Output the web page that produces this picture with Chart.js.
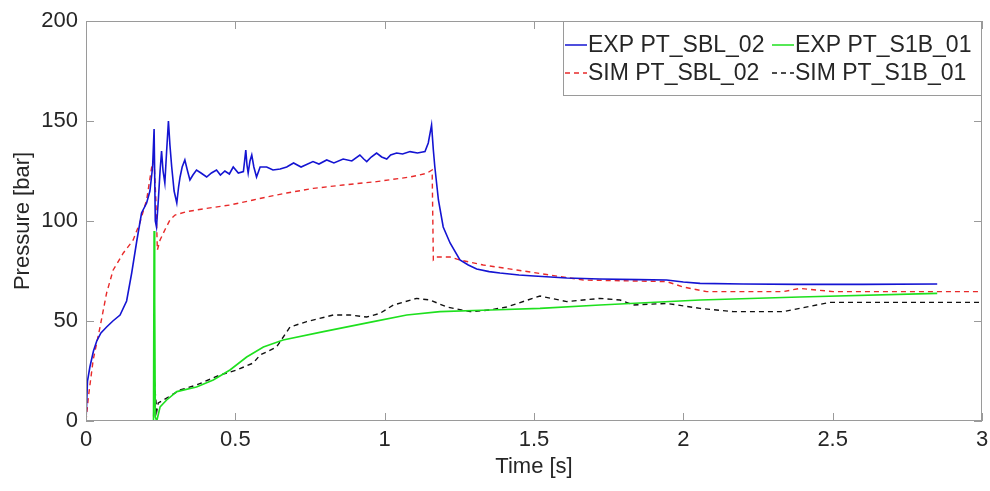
<!DOCTYPE html>
<html>
<head>
<meta charset="utf-8">
<script src="https://cdn.jsdelivr.net/npm/chart.js@4"></script>
<style>
  body { margin: 0; background: #fff; }
  #wrap { width: 990px; height: 491px; position: relative; }
</style>
</head>
<body>
<div id="wrap"><canvas id="pressureChart"></canvas></div>
<script>
// Pressure traces (time in s, pressure in bar)
const expSblTime = [
  0, 0.005, 0.013, 0.025, 0.036, 0.05, 0.069, 0.09, 0.114, 0.136,
  0.153, 0.17, 0.186, 0.203, 0.214, 0.223, 0.228, 0.232, 0.236, 0.242,
  0.248, 0.253, 0.258, 0.264, 0.27, 0.276, 0.281, 0.287, 0.295, 0.304,
  0.31, 0.315, 0.322, 0.331, 0.34, 0.348, 0.358, 0.37, 0.385, 0.404,
  0.42, 0.437, 0.45, 0.465, 0.48, 0.493, 0.51, 0.527, 0.531, 0.535,
  0.539, 0.543, 0.549, 0.555, 0.562, 0.571, 0.583, 0.605, 0.626, 0.65,
  0.672, 0.695, 0.72, 0.76, 0.78, 0.806, 0.83, 0.861, 0.89, 0.917,
  0.93, 0.94, 0.955, 0.973, 0.99, 1.007, 1.02, 1.04, 1.06, 1.085,
  1.11, 1.135, 1.146, 1.157, 1.163, 1.168, 1.18, 1.196, 1.219, 1.252,
  1.28, 1.308, 1.35, 1.386, 1.45, 1.5, 1.61, 1.72, 1.85, 1.944,
  2.0, 2.056, 2.2, 2.39, 2.6, 2.85
];
const expSblPressure = [
  0, 20, 27, 35, 40, 44, 47, 50, 53, 60,
  74, 90, 104, 109, 115, 127, 146, 100, 97, 110,
  125, 135, 125, 119, 135, 150, 138, 127, 115, 109,
  117, 122, 127, 130.5, 125, 120.5, 123, 125.5, 124, 122,
  124, 125.5, 123, 125, 123.5, 127, 124, 124.7, 130, 135.5,
  128, 124, 130, 133, 127, 122, 127, 127, 125.5, 126,
  127, 129, 127, 129.7, 128.5, 130.5, 129, 131, 130, 133,
  131, 129.7, 132, 134, 132, 131, 133, 134, 133.5, 134.7,
  134, 134.7, 139, 148, 135.5, 127, 110.5, 97, 89, 80.5,
  78, 76, 74.7, 74, 73, 72.5, 71.5, 71, 70.7, 70.5,
  69.5, 68.8, 68.5, 68.3, 68.3, 68.5
];

const expS1bTime = [
  0, 0.226, 0.228, 0.23, 0.232, 0.237, 0.248, 0.27, 0.304, 0.37,
  0.426, 0.482, 0.538, 0.594, 0.66, 0.795, 0.962, 1.074, 1.185, 1.353,
  1.52, 1.721, 2.056, 2.39, 2.85
];
const expS1bPressure = [
  0, 0, 95, 60, 2, 0, 7, 10.5, 14.7, 17,
  20.5, 25.5, 32, 37, 40.5, 44.7, 49.7, 53, 54.7, 55.5,
  56.3, 58, 60.5, 62, 63.8
];

const simSblTime = [
  0, 0.008, 0.024, 0.047, 0.069, 0.091, 0.125, 0.158, 0.18, 0.203,
  0.22, 0.228, 0.234, 0.239, 0.248, 0.264, 0.281, 0.298, 0.337, 0.404,
  0.482, 0.56, 0.605, 0.672, 0.761, 0.861, 0.973, 1.085, 1.14, 1.159,
  1.163, 1.174, 1.219, 1.252, 1.33, 1.442, 1.553, 1.665, 1.944, 2.0,
  2.078, 2.335, 2.39, 2.446, 2.502, 3.0
];
const simSblPressure = [
  0, 12, 30.5, 47, 64, 75.5, 84, 90.5, 99, 110.5,
  127, 129.7, 110.5, 85.5, 90.5, 95.5, 100.5, 103, 104.7, 106.3,
  108, 110.5, 112, 114, 116.3, 118, 119.7, 122, 123.8, 125.5,
  80.5, 82, 82, 80.5, 78, 75.5, 73, 70.5, 69.7, 67,
  64.7, 64.7, 66.3, 65.5, 64.7, 64.7
];

const simS1bTime = [
  0, 0.226, 0.229, 0.233, 0.237, 0.242, 0.259, 0.315, 0.37, 0.449,
  0.505, 0.56, 0.583, 0.638, 0.683, 0.739, 0.828, 0.884, 0.94, 0.984,
  1.029, 1.107, 1.152, 1.208, 1.286, 1.353, 1.408, 1.52, 1.61, 1.721,
  1.788, 1.832, 1.944, 2.056, 2.167, 2.335, 2.446, 2.49, 3.0
];
const simS1bPressure = [
  0, 0, 20, 12, 5, 9, 10.5, 15.5, 18, 23,
  25.5, 29, 33, 37, 47, 49.7, 53, 53, 52, 53.8,
  58, 61.3, 60.5, 57, 54.7, 55.5, 57, 62.5, 59.7, 61.3,
  60.5, 58, 58.8, 56.3, 54.7, 54.7, 58, 59.3, 59.3
];

const seriesLabels = ['EXP PT_SBL_02', 'EXP PT_S1B_01', 'SIM PT_SBL_02', 'SIM PT_S1B_01'];
const xTicks = [0, 0.5, 1, 1.5, 2, 2.5, 3];
const yTicks = [0, 50, 100, 150, 200];

function toPoints(ts, ps) {
    return ts.map((t, i) => ({ x: t, y: ps[i] }));
}

const FONT = "'Liberation Sans', Arial, sans-serif";
const TEXT = '#262626';
const BOX = '#9a9a9a';

// Axes box with inward ticks on all four sides
const boxPlugin = {
    id: 'boxPlugin',
    afterDatasetsDraw(chart) {
        const { ctx, chartArea: a, scales } = chart;
        ctx.save();
        ctx.strokeStyle = BOX;
        ctx.lineWidth = 1;
        ctx.strokeRect(a.left + 0.5, a.top + 0.5, a.right - a.left - 1, a.bottom - a.top - 1);
        const len = 8;
        ctx.beginPath();
        xTicks.forEach(v => {
            const px = Math.round(scales.x.getPixelForValue(v)) + 0.5;
            ctx.moveTo(px, a.bottom); ctx.lineTo(px, a.bottom - len);
            ctx.moveTo(px, a.top); ctx.lineTo(px, a.top + len);
        });
        yTicks.forEach(v => {
            const py = Math.round(scales.y.getPixelForValue(v)) + 0.5;
            ctx.moveTo(a.left, py); ctx.lineTo(a.left + len, py);
            ctx.moveTo(a.right, py); ctx.lineTo(a.right - len, py);
        });
        ctx.stroke();
        ctx.restore();
    },
    afterDraw(chart) {
        // 2x2 legend in the top right corner
        const { ctx, chartArea: a } = chart;
        const left = 563, top = a.top, right = a.right, bottom = 95;
        ctx.save();
        ctx.fillStyle = '#fff';
        ctx.fillRect(left, top, right - left, bottom - top);
        ctx.strokeStyle = BOX;
        ctx.lineWidth = 1;
        ctx.strokeRect(left + 0.5, top + 0.5, right - left - 1, bottom - top);
        ctx.font = '23px ' + FONT;
        ctx.textBaseline = 'middle';
        const cols = [565, 772];
        const rows = [45, 73];
        const order = [[0, 0, 0], [1, 1, 0], [2, 0, 1], [3, 1, 1]];
        order.forEach(([di, c, r]) => {
            const ds = chart.data.datasets[di];
            const x = cols[c], y = rows[r];
            ctx.strokeStyle = ds.borderColor;
            ctx.lineWidth = 1.5;
            ctx.setLineDash(ds.borderDash || []);
            ctx.beginPath();
            ctx.moveTo(x, y); ctx.lineTo(x + 22, y);
            ctx.stroke();
            ctx.setLineDash([]);
            ctx.fillStyle = TEXT;
            ctx.fillText(ds.label, x + 23, y + 1);
        });
        ctx.restore();
    }
};

new Chart(document.getElementById('pressureChart'), {
    type: 'line',
    data: {
        datasets: [
            {
                label: seriesLabels[0],
                data: toPoints(expSblTime, expSblPressure),
                borderColor: '#1414d2',
                borderWidth: 1.6
            },
            {
                label: seriesLabels[1],
                data: toPoints(expS1bTime, expS1bPressure),
                borderColor: '#1ee01e',
                borderWidth: 1.6
            },
            {
                label: seriesLabels[2],
                data: toPoints(simSblTime, simSblPressure),
                borderColor: '#e82a2a',
                borderWidth: 1.4,
                borderDash: [5, 4]
            },
            {
                label: seriesLabels[3],
                data: toPoints(simS1bTime, simS1bPressure),
                borderColor: '#111111',
                borderWidth: 1.4,
                borderDash: [5, 4]
            }
        ]
    },
    options: {
        responsive: true,
        maintainAspectRatio: false,
        animation: false,
        parsing: false,
        elements: {
            point: { radius: 0 },
            line: { tension: 0 }
        },
        layout: {
            padding: { top: 21, right: 8, bottom: 0, left: 0 }
        },
        scales: {
            x: {
                type: 'linear',
                min: 0,
                max: 3,
                afterBuildTicks: (scale) => { scale.ticks = xTicks.map(v => ({ value: v })); },
                afterFit: (scale) => {
                    scale.height = 70;
                    scale.paddingLeft = 0;
                    scale.paddingRight = 0;
                },
                grid: { display: false, drawTicks: false },
                border: { display: false },
                ticks: {
                    padding: 6,
                    color: TEXT,
                    font: { family: FONT, size: 22 },
                    maxRotation: 0,
                    callback: (v) => String(v)
                },
                title: {
                    display: true,
                    text: 'Time [s]',
                    color: TEXT,
                    font: { family: FONT, size: 22 },
                    padding: { top: 0, bottom: 11 }
                }
            },
            y: {
                type: 'linear',
                min: 0,
                max: 200,
                afterBuildTicks: (scale) => { scale.ticks = yTicks.map(v => ({ value: v })); },
                afterFit: (scale) => {
                    scale.width = 86;
                    scale.paddingTop = 0;
                    scale.paddingBottom = 0;
                },
                grid: { display: false, drawTicks: false },
                border: { display: false },
                ticks: {
                    padding: 8,
                    color: TEXT,
                    font: { family: FONT, size: 22 },
                    callback: (v) => String(v)
                },
                title: {
                    display: true,
                    text: 'Pressure [bar]',
                    color: TEXT,
                    font: { family: FONT, size: 22 },
                    padding: { top: 10, bottom: 0 }
                }
            }
        },
        plugins: {
            legend: { display: false },
            tooltip: { enabled: false }
        }
    },
    plugins: [boxPlugin]
});
</script>
</body>
</html>
